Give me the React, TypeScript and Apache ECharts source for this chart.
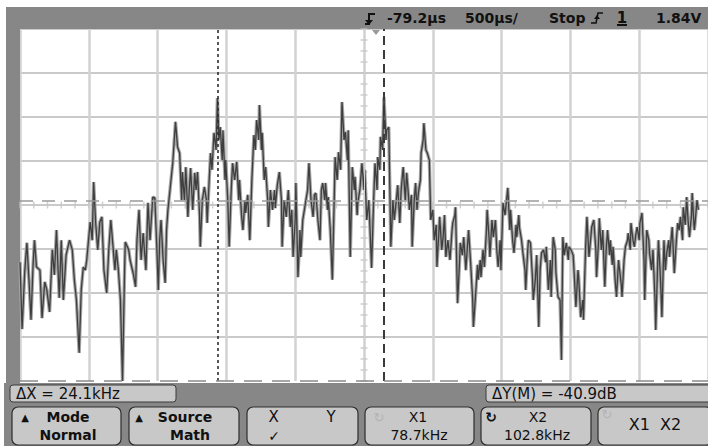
import React, { useEffect, useRef } from "react";
import * as echarts from "echarts";

// FFT trace: frequency (kHz) and level (dB)
const freqKHz = [
  50.0, 50.3, 50.7, 51.0, 51.3, 51.6, 51.9, 52.1, 52.4, 52.9, 53.2, 53.6, 53.9, 54.3, 54.7, 55.0, 55.3, 55.7, 56.0, 56.3, 56.7, 57.2, 57.6, 57.9, 58.2, 58.6, 58.9, 59.2, 59.5, 59.7,
  60.2, 60.5, 60.7, 61.0, 61.3, 61.6, 61.9, 62.2, 62.6, 62.9, 63.2, 63.5, 63.8, 64.0, 64.3, 64.6, 64.9, 65.2, 65.3, 65.8, 66.0, 66.5, 66.8, 67.0, 67.3, 67.6, 67.9, 68.3, 68.6, 68.9,
  69.3, 69.6, 69.9, 70.1, 70.3, 70.5, 70.8, 71.1, 71.3, 71.5, 71.8, 72.2, 72.6, 72.9, 73.2, 73.5, 73.6, 73.9, 74.1, 74.4, 74.6, 74.8, 75.1, 75.4, 75.6, 75.8, 76.1, 76.2, 76.5, 76.8,
  77.1, 77.2, 77.5, 77.7, 77.9, 78.2, 78.5, 78.7, 78.9, 79.1, 79.4, 79.5, 79.8, 79.9, 80.2, 80.4, 80.7, 80.9, 81.2, 81.5, 81.8, 81.9, 82.2, 82.4, 82.7, 82.8, 83.1, 83.4, 83.7, 84.0,
  84.2, 84.4, 84.7, 84.8, 85.1, 85.2, 85.5, 85.7, 86.0, 86.1, 86.4, 86.7, 87.0, 87.1, 87.4, 87.7, 88.0, 88.1, 88.4, 88.7, 89.0, 89.3, 89.5, 89.7, 90.0, 90.1, 90.4, 90.7, 90.8, 91.1,
  91.5, 91.8, 92.0, 92.3, 92.6, 92.8, 93.0, 93.3, 93.6, 93.8, 94.0, 94.3, 94.4, 94.7, 94.8, 95.1, 95.4, 95.7, 95.8, 96.1, 96.3, 96.6, 96.8, 97.1, 97.3, 97.6, 97.7, 98.0, 98.3, 98.6,
  98.7, 99.0, 99.1, 99.4, 99.7, 100.0, 100.1, 100.4, 100.7, 101.1, 101.4, 101.6, 101.9, 102.0, 102.3, 102.4, 102.7, 102.9, 103.2, 103.3, 103.6, 103.9, 104.2, 104.4, 104.7, 104.9, 105.2, 105.4, 105.7, 106.0,
  106.2, 106.4, 106.6, 106.9, 107.0, 107.3, 107.5, 107.7, 107.9, 108.2, 108.3, 108.6, 108.7, 109.0, 109.2, 109.5, 109.7, 110.0, 110.2, 110.5, 110.6, 110.9, 111.0, 111.3, 111.5, 111.7, 111.9, 112.2, 112.5, 112.8,
  112.9, 113.2, 113.3, 113.6, 113.9, 114.0, 114.3, 114.5, 114.8, 115.0, 115.2, 115.5, 115.8, 115.9, 116.2, 116.5, 116.6, 116.9, 117.0, 117.3, 117.5, 117.8, 117.9, 118.2, 118.3, 118.6, 118.8, 119.1, 119.3, 119.5,
  119.8, 119.9, 120.2, 120.5, 120.8, 120.9, 121.2, 121.3, 121.6, 121.8, 122.1, 122.2, 122.5, 122.6, 122.9, 123.1, 123.4, 123.5, 123.8, 123.9, 124.2, 124.5, 124.6, 124.9, 125.1, 125.4, 125.6, 125.8, 126.1, 126.4,
  126.5, 126.8, 127.1, 127.2, 127.5, 127.8, 127.9, 128.2, 128.5, 128.7, 128.9, 129.1, 129.4, 129.7, 129.8, 130.1, 130.4, 130.5, 130.8, 131.1, 131.2, 131.5, 131.8, 131.9, 132.2, 132.4, 132.7, 133.0, 133.1, 133.4,
  133.7, 133.8, 134.1, 134.2, 134.5, 134.7, 135.0, 135.2, 135.4, 135.7, 135.8, 136.1, 136.2, 136.5, 136.7, 137.0, 137.1, 137.4, 137.5, 137.8, 138.0, 138.3, 138.4, 138.7, 138.8, 139.1, 139.3, 139.5, 139.7, 140.0,
  140.1, 140.4, 140.7, 140.8, 141.1, 141.4, 141.5, 141.8, 142.0, 142.3, 142.4, 142.7, 142.8, 143.1, 143.3, 143.6, 143.8, 144.0, 144.3, 144.4, 144.7, 144.8, 145.1, 145.4, 145.6, 145.8, 146.0, 146.3, 146.4, 146.7,
  146.9, 147.1, 147.3, 147.6, 147.7, 148.0, 148.1, 148.4, 148.6,
];

const levelDb = [
  -73.0, -88.2, -74.8, -68.6, -77.0, -86.1, -73.6, -68.0, -74.1, -74.8, -85.7, -77.5, -79.3, -84.3, -70.2, -75.9, -65.7, -81.1, -68.0, -81.6, -71.4, -68.0, -70.2, -77.0, -81.6, -93.6, -79.3, -74.1, -74.8, -72.5,
  -63.9, -68.0, -54.8, -64.1, -70.2, -63.9, -62.7, -74.8, -80.0, -70.2, -63.4, -69.1, -74.8, -70.2, -74.8, -81.6, -100, -74.8, -68.4, -70.2, -72.5, -75.9, -78.6, -68.0, -61.1, -72.5, -66.4, -74.8, -59.5, -68.0,
  -58.2, -58.4, -70.2, -79.3, -68.0, -63.4, -72.5, -77.7, -65.7, -61.1, -56.6, -50.5, -41.1, -46.8, -48.2, -58.9, -52.5, -58.9, -51.4, -62.7, -56.6, -51.6, -61.1, -52.7, -56.6, -52.5, -62.3, -69.5, -58.9, -55.9,
  -58.9, -64.1, -54.3, -48.2, -52.0, -43.6, -47.5, -35.7, -45.2, -42.3, -49.8, -43.0, -54.3, -49.8, -58.9, -69.5, -56.6, -50.5, -54.3, -50.2, -58.9, -54.3, -62.3, -65.7, -58.9, -61.8, -57.7, -68.0, -54.3, -44.1,
  -47.5, -40.7, -45.2, -37.3, -47.5, -43.6, -54.3, -51.4, -58.9, -65.0, -56.6, -61.1, -56.6, -60.7, -55.5, -52.5, -58.9, -69.5, -58.9, -62.7, -56.6, -65.0, -61.1, -71.8, -63.4, -55.0, -76.4, -65.7, -71.8, -63.4,
  -59.5, -56.6, -50.5, -58.9, -62.7, -57.7, -57.3, -63.4, -68.0, -56.6, -55.0, -58.9, -55.0, -61.1, -58.2, -65.7, -77.0, -56.6, -49.1, -54.3, -48.0, -52.0, -36.6, -45.2, -43.4, -49.8, -43.0, -71.8, -51.4, -56.6,
  -53.6, -62.3, -59.5, -56.6, -50.5, -56.6, -52.0, -63.4, -58.9, -74.3, -58.9, -50.5, -56.6, -49.1, -52.0, -44.5, -47.5, -35.5, -45.2, -43.0, -42.3, -69.5, -58.9, -63.4, -58.9, -55.5, -64.1, -56.6, -51.4, -58.9,
  -52.7, -56.6, -61.1, -57.7, -69.5, -58.9, -55.0, -61.1, -57.3, -54.3, -48.2, -45.2, -41.4, -47.5, -48.2, -49.8, -63.4, -61.1, -68.0, -64.5, -74.1, -65.7, -62.7, -70.2, -67.3, -62.3, -71.8, -68.0, -72.5, -65.7,
  -64.1, -62.3, -60.5, -82.3, -72.5, -68.6, -71.4, -67.3, -74.8, -70.2, -65.7, -73.2, -81.6, -87.7, -80.9, -73.6, -77.0, -72.5, -76.4, -70.2, -74.1, -65.7, -61.1, -68.0, -71.8, -63.4, -67.3, -63.4, -70.2, -74.1,
  -68.0, -74.8, -59.5, -62.3, -57.7, -56.1, -65.7, -61.1, -68.0, -70.9, -64.5, -67.3, -62.3, -65.2, -68.0, -70.9, -74.8, -79.3, -70.2, -68.0, -68.6, -77.0, -81.6, -77.0, -71.4, -87.7, -74.8, -70.9, -70.2, -73.0,
  -69.5, -79.3, -72.5, -80.9, -67.3, -70.2, -75.5, -80.9, -81.6, -95.2, -67.3, -71.4, -68.6, -72.5, -69.5, -70.2, -71.4, -74.1, -83.2, -74.8, -76.4, -85.5, -81.6, -86.1, -70.2, -62.7, -71.8, -66.8, -65.0, -63.4,
  -70.2, -76.4, -68.0, -63.0, -70.2, -65.7, -78.6, -70.2, -65.7, -71.4, -68.0, -73.6, -69.5, -77.0, -80.9, -72.5, -74.1, -78.2, -80.9, -72.5, -69.5, -68.0, -66.4, -70.2, -64.1, -68.0, -69.5, -66.8, -65.0, -68.0,
  -64.1, -61.8, -72.5, -81.6, -65.7, -68.0, -70.9, -74.8, -70.2, -81.6, -88.4, -72.5, -68.0, -77.0, -85.5, -68.0, -74.8, -70.9, -68.0, -71.8, -66.8, -65.0, -75.5, -68.0, -64.1, -65.7, -62.7, -68.0, -60.5, -64.5,
  -58.2, -63.4, -67.3, -62.3, -57.3, -65.7, -64.5, -58.9, -61.1,
];

// Screen scales: 10 kHz/div (10 div), 10 dB/div (8 div)
const freqMin = 50;
const freqMax = 150;
const freqStep = 10;
const dbMin = -100;
const dbMax = -20;
const dbStep = 10;

// Cursors
const cursorX1 = 78.7;
const cursorX2 = 102.8;
const cursorY2 = -100;
const deltaYDb = -40.9;
const cursorY1 = cursorY2 - deltaYDb;

// Texts on screen
const statusTexts = ["-79.2µs", "500µs/", "Stop", "1", "1.84V"];
const deltaXText = "ΔX = 24.1kHz";
const deltaYText = "ΔY(M) = -40.9dB";
const softkeys = [
  { top: "Mode", bottom: "Normal" },
  { top: "Source", bottom: "Math" },
  { top: "X          Y", bottom: "✓" },
  { top: "X1", bottom: "78.7kHz" },
  { top: "X2", bottom: "102.8kHz" },
  { top: "X1  X2", bottom: "" },
];

const FONT = '"DejaVu Sans", sans-serif';
const GRAY = "#878787";
const KEY = "#c8c8c8";

export default function App() {
  const ref = useRef<HTMLDivElement>(null);

  useEffect(() => {
    if (!ref.current) return;
    const chart = echarts.init(ref.current, undefined, { renderer: "svg" });

    const n = Math.min(freqKHz.length, levelDb.length);
    const trace: number[][] = [];
    for (let i = 0; i < n; i++) trace.push([freqKHz[i], levelDb[i]]);

    // graticule minor ticks along the centre axes
    const centreF = (freqMin + freqMax) / 2;
    const centreDb = (dbMin + dbMax) / 2;
    const vTicks: number[][] = [];
    for (let v = dbMin; v <= dbMax + 1e-9; v += dbStep / 4) vTicks.push([centreF, v]);
    const hTicks: number[][] = [];
    for (let f = freqMin; f <= freqMax + 1e-9; f += freqStep / 5) hTicks.push([f, centreDb]);

    const txt = (x: number, y: number, text: string, size = 14, align = "left", fill = "#111", weight = "bold") => ({
      type: "text",
      x,
      y,
      silent: true,
      z: 10,
      style: {
        text,
        fill,
        font: `${weight} ${size}px ${FONT}`,
        textAlign: align,
        textVerticalAlign: "middle",
      },
    });

    const keyBoxes = [
      [12, 121],
      [129, 239],
      [247, 358],
      [365, 474],
      [481, 591],
      [598, 712],
    ];

    const graphic: any[] = [
      // frame
      { type: "rect", silent: true, z: 1, shape: { x: 6, y: 7, width: 702, height: 22 }, style: { fill: GRAY } },
      { type: "rect", silent: true, z: 1, shape: { x: 6, y: 7, width: 14, height: 378 }, style: { fill: GRAY } },
      { type: "rect", silent: true, z: 1, shape: { x: 4, y: 383, width: 704, height: 63 }, style: { fill: GRAY } },
      // status line
      { type: "polyline", silent: true, z: 10, shape: { points: [[365, 24], [369, 24], [369, 14], [375, 14]] }, style: { stroke: "#111", lineWidth: 2, fill: null } },
      { type: "polygon", silent: true, z: 10, shape: { points: [[365, 20], [369, 25], [373, 20]] }, style: { fill: "#111" } },
      txt(387, 18, statusTexts[0]),
      txt(465, 18, statusTexts[1]),
      txt(549, 18, statusTexts[2]),
      { type: "polyline", silent: true, z: 10, shape: { points: [[591, 23], [596, 23], [598, 13], [603, 13]] }, style: { stroke: "#111", lineWidth: 1.5, fill: null } },
      { type: "polygon", silent: true, z: 10, shape: { points: [[594, 19], [597, 15], [600, 19]] }, style: { fill: "#111" } },
      txt(622, 18, statusTexts[3], 15, "center"),
      { type: "rect", silent: true, z: 10, shape: { x: 617, y: 24, width: 10, height: 2 }, style: { fill: "#111" } },
      txt(656, 18, statusTexts[4]),
      // small marker under status line
      { type: "polygon", silent: true, z: 10, shape: { points: [[372, 30], [380, 30], [376, 35]] }, style: { fill: "#9a9a9a" } },
      // delta readouts
      { type: "rect", silent: true, z: 5, shape: { x: 10, y: 385, width: 166, height: 17, r: 3 }, style: { fill: KEY, stroke: "#3a3a3a", lineWidth: 1 } },
      txt(16, 394, deltaXText, 15, "left", "#111", "normal"),
      { type: "rect", silent: true, z: 5, shape: { x: 486, y: 385, width: 230, height: 17, r: 3 }, style: { fill: KEY, stroke: "#3a3a3a", lineWidth: 1 } },
      txt(492, 394, deltaYText, 15, "left", "#111", "normal"),
    ];

    keyBoxes.forEach(([x0, x1]) => {
      graphic.push({
        type: "rect",
        silent: true,
        z: 5,
        shape: { x: x0, y: 407, width: x1 - x0, height: 38, r: 6 },
        style: { fill: KEY, stroke: "#2e2e2e", lineWidth: 1.2 },
      });
    });

    // softkey texts (two lines each)
    const L1 = 417;
    const L2 = 435;
    const FS = 14;
    graphic.push(txt(25, L1, "▲", 10, "center"));
    graphic.push(txt(68, L1, softkeys[0].top, FS, "center"));
    graphic.push(txt(68, L2, softkeys[0].bottom, FS, "center"));
    graphic.push(txt(139, L1, "▲", 10, "center"));
    graphic.push(txt(185, L1, softkeys[1].top, FS, "center"));
    graphic.push(txt(190, L2, softkeys[1].bottom, FS, "center"));
    graphic.push(txt(302, L1, softkeys[2].top, 15, "center", "#111", "normal"));
    graphic.push(txt(274, L2 + 1, softkeys[2].bottom, 14, "center", "#111", "normal"));
    graphic.push(txt(379, L1, "↻", 13, "center", "#b4b4b4", "normal"));
    graphic.push(txt(418, L1, softkeys[3].top, FS, "center", "#111", "normal"));
    graphic.push(txt(419, L2, softkeys[3].bottom, FS, "center", "#111", "normal"));
    graphic.push(txt(491, L1, "↻", 14, "center", "#111", "bold"));
    graphic.push(txt(538, L1, softkeys[4].top, FS, "center", "#111", "normal"));
    graphic.push(txt(537, L2, softkeys[4].bottom, FS, "center", "#111", "normal"));
    graphic.push(txt(607, 414, "↻", 13, "center", "#b4b4b4", "normal"));
    graphic.push(txt(655, 424, softkeys[5].top, 16, "center", "#111", "normal"));

    chart.setOption({
      animation: false,
      backgroundColor: "#ffffff",
      grid: { left: 20, top: 29, width: 698, height: 352, show: false },
      xAxis: {
        type: "value",
        min: freqMin,
        max: freqMax,
        interval: freqStep,
        axisLine: { show: false },
        axisTick: { show: false },
        axisLabel: { show: false },
        splitLine: { show: true, lineStyle: { color: "#d2d2d2", width: 2.5 } },
      },
      yAxis: {
        type: "value",
        min: dbMin,
        max: dbMax,
        interval: dbStep,
        axisLine: { show: false },
        axisTick: { show: false },
        axisLabel: { show: false },
        splitLine: { show: true, showMinLine: false, lineStyle: { color: "#b9b9b9", width: 1.6 } },
      },
      graphic,
      series: [
        {
          type: "scatter",
          silent: true,
          data: vTicks,
          symbol: "rect",
          symbolSize: [7, 1.5],
          itemStyle: { color: "#c4c4c4" },
          z: 1,
        },
        {
          type: "scatter",
          silent: true,
          data: hTicks,
          symbol: "rect",
          symbolSize: [1.5, 7],
          itemStyle: { color: "#c4c4c4" },
          z: 1,
        },
        {
          type: "line",
          silent: true,
          data: trace,
          showSymbol: false,
          symbol: "none",
          lineStyle: { color: "#a6a6a6", width: 3.4 },
          z: 2,
        },
        {
          type: "line",
          silent: true,
          data: trace,
          showSymbol: false,
          symbol: "none",
          lineStyle: { color: "#3e3e3e", width: 1.3 },
          z: 3,
          markLine: {
            silent: true,
            symbol: ["none", "none"],
            label: { show: false },
            data: [
              { xAxis: centreF, lineStyle: { color: "#cfcfcf", width: 1, type: "solid" } },
              { xAxis: cursorX1, lineStyle: { color: "#2f2f2f", width: 1.6, type: [3, 3] } },
              { xAxis: cursorX2, lineStyle: { color: "#3a3a3a", width: 2, type: [9, 5] } },
              { yAxis: cursorY1, lineStyle: { color: "#9a9a9a", width: 1.6, type: [13, 9] } },
              { yAxis: cursorY2, lineStyle: { color: "#8a8a8a", width: 1.6, type: [18, 10] } },
            ],
          },
        },
      ],
    });

    return () => chart.dispose();
  }, []);

  return (
    <div
      ref={ref}
      style={{ position: "absolute", left: 0, top: 0, width: 708, height: 446, background: "#fff" }}
    />
  );
}
